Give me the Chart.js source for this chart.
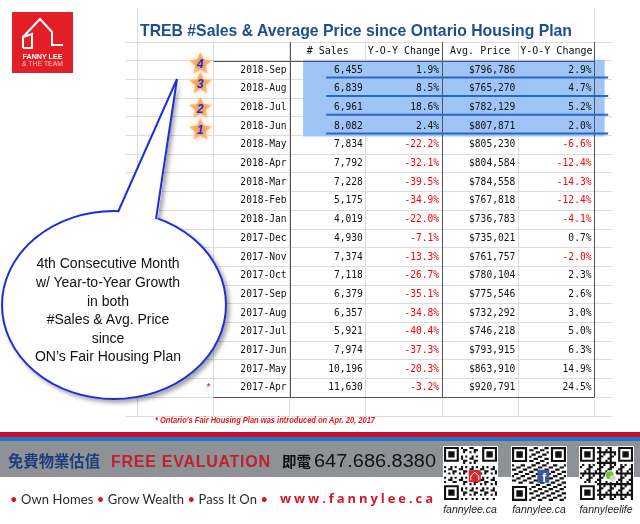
<!DOCTYPE html>
<html>
<head>
<meta charset="utf-8">
<script src="https://cdn.jsdelivr.net/npm/chart.js@4.4.1/dist/chart.umd.min.js"></script>
<style>
  html, body { margin: 0; padding: 0; background: #fff; }
  #wrap { position: relative; width: 640px; height: 524px; overflow: hidden; }
  #sheet, #deco { position: absolute; left: 0; top: 0; }
</style>
</head>
<body>
<div id="wrap">
  <canvas id="sheet" width="640" height="524"></canvas>
  <svg id="deco" width="640" height="524" xmlns="http://www.w3.org/2000/svg">
    <defs>
      <filter id="shadow" x="-10%" y="-10%" width="130%" height="130%">
        <feDropShadow dx="3" dy="3" stdDeviation="2" flood-color="#000" flood-opacity="0.35"/>
      </filter>
    </defs>

    <!-- logo -->
    <rect x="12" y="12" width="61" height="61" fill="#e41e26"/>
    <path d="M23 48 V37 L40 19 L52 32 V45 H63" fill="none" stroke="#fff" stroke-width="2"/>
    <path d="M23 37 L32 34 V48 H23" fill="none" stroke="#fff" stroke-width="2"/>
    <text x="42.5" y="59" text-anchor="middle" font-family="Liberation Sans, Arial" font-weight="bold" font-size="8" fill="#fff" textLength="40" lengthAdjust="spacingAndGlyphs">FANNY LEE</text>
    <text x="42.5" y="66" text-anchor="middle" font-family="Liberation Sans, Arial" font-size="6.5" fill="#f7c4c4" textLength="41" lengthAdjust="spacingAndGlyphs">&amp; THE TEAM</text>

    <!-- title -->
    <text x="140" y="36" font-family="Liberation Sans, Arial" font-weight="bold" font-size="17" fill="#1d4e8f" textLength="432" lengthAdjust="spacingAndGlyphs">TREB #Sales &amp; Average Price since Ontario Housing Plan</text>

    <!-- callout -->
    <g filter="url(#shadow)">
      <ellipse cx="114" cy="305" rx="112" ry="94" fill="#fff" stroke="#1c2fd8" stroke-width="2"/>
      <polygon points="118,214 157,222 177,79" fill="#fff"/>
    </g>
    <polyline points="118,212 177,79 156,219" fill="none" stroke="#1c2fd8" stroke-width="2"/>
    <g font-family="Liberation Sans, Arial" font-size="14" fill="#111" text-anchor="middle">
      <text x="108" y="268">4th Consecutive Month</text>
      <text x="108" y="287">w/ Year-to-Year Growth</text>
      <text x="108" y="306">in both</text>
      <text x="108" y="324">#Sales &amp; Avg. Price</text>
      <text x="108" y="343">since</text>
      <text x="108" y="361">ON’s Fair Housing Plan</text>
    </g>

    <!-- footnote -->
    <text x="155" y="423" font-family="Liberation Sans, Arial" font-weight="bold" font-style="italic" font-size="8.5" fill="#e8131b" textLength="220" lengthAdjust="spacingAndGlyphs">* Ontario's Fair Housing Plan was introduced on Apr. 20, 2017</text>

    <!-- footer -->
    <rect x="0" y="432" width="640" height="5" fill="#c8102e"/>
    <rect x="0" y="437" width="640" height="4" fill="#1b76c9"/>
    <rect x="0" y="441" width="640" height="36" fill="#8e9297"/>
    <text x="8" y="467" font-family="Noto Sans CJK TC" font-weight="bold" font-size="15.5" fill="#1d3e7c" textLength="92" lengthAdjust="spacingAndGlyphs">免費物業估值</text>
    <text x="111" y="467" font-family="Liberation Sans, Arial" font-weight="bold" font-size="16" fill="#c1202e" textLength="159" lengthAdjust="spacing">FREE EVALUATION</text>
    <text x="282" y="467" font-family="Noto Sans CJK TC" font-weight="bold" font-size="15" fill="#111" textLength="29" lengthAdjust="spacingAndGlyphs">即電</text>
    <text x="314" y="467" font-family="Liberation Sans, Arial" font-size="17.5" fill="#111" textLength="122" lengthAdjust="spacingAndGlyphs">647.686.8380</text>
    <text x="10" y="503.5" font-family="Lato, Open Sans" font-size="13" fill="#2b2b2b" textLength="258" lengthAdjust="spacing"><tspan fill="#d21a2c">•</tspan> Own Homes <tspan fill="#d21a2c">•</tspan> Grow Wealth <tspan fill="#d21a2c">•</tspan> Pass It On <tspan fill="#d21a2c">•</tspan></text>
    <text x="280" y="503" font-family="Open Sans, Liberation Sans" font-weight="bold" font-size="13" fill="#d21a2c" textLength="153" lengthAdjust="spacing">www.fannylee.ca</text>
    <g id="qrs"></g>
    <g font-family="Liberation Sans, Arial" font-style="italic" font-size="10.5" fill="#222" text-anchor="middle">
      <text x="470" y="513">fannylee.ca</text>
      <text x="539" y="513">fannylee.ca</text>
      <text x="606" y="513">fannyleelife</text>
    </g>
  </svg>
</div>

<script>
// TREB monthly figures, newest first
const months = ['2018-Sep', '2018-Aug', '2018-Jul', '2018-Jun', '2018-May', '2018-Apr', '2018-Mar', '2018-Feb', '2018-Jan',
                '2017-Dec', '2017-Nov', '2017-Oct', '2017-Sep', '2017-Aug', '2017-Jul', '2017-Jun', '2017-May', '2017-Apr'];
const sales = [6455, 6839, 6961, 8082, 7834, 7792, 7228, 5175, 4019, 4930, 7374, 7118, 6379, 6357, 5921, 7974, 10196, 11630];
const salesYoy = [1.9, 8.5, 18.6, 2.4, -22.2, -32.1, -39.5, -34.9, -22.0, -7.1, -13.3, -26.7, -35.1, -34.8, -40.4, -37.3, -20.3, -3.2];
const avgPrice = [796786, 765270, 782129, 807871, 805230, 804584, 784558, 767818, 736783, 735021, 761757, 780104, 775546, 732292, 746218, 793915, 863910, 920791];
const priceYoy = [2.9, 4.7, 5.2, 2.0, -6.6, -12.4, -14.3, -12.4, -4.1, 0.7, -2.0, 2.3, 2.6, 3.0, 5.0, 6.3, 14.9, 24.5];
const columnHeaders = ['# Sales', 'Y-O-Y Change', 'Avg. Price', 'Y-O-Y Change'];
const policyMonth = '2017-Apr';

// look
const MONO = '"DejaVu Sans Mono", monospace';
const GRID = '#dcdcdc';
const DARK = '#555';
const HILITE = '#9fc4f6';
const HILITE_FROM = 2.19, HILITE_TO = 6.12;   // in sheet columns
const UNDERLINE_FROM = 2.48, UNDERLINE_TO = 6.18;
const STAR_COL = 0.83;
const STAR_NUDGE = [-7, -6, 0, 3];            // hand placed stars, top first

// sheet rows: header, the months, one blank row under the table
const rows = [''].concat(months, ['']);

// leading run of months where both sales and price grew year over year
let streak = 0;
while (streak < months.length && salesYoy[streak] > 0 && priceYoy[streak] > 0) streak++;

const highlight = rows.map((r, i) => (i >= 1 && i <= streak) ? [HILITE_FROM, HILITE_TO] : null);

const fmtInt = v => v.toLocaleString('en-US');
const fmtPct = v => v.toFixed(1) + '%';

function drawStar(ctx, cx, cy, R, r) {
    ctx.beginPath();
    for (let k = 0; k < 10; k++) {
        const rad = k % 2 ? r : R;
        const a = -Math.PI / 2 + k * Math.PI / 5;
        ctx.lineTo(cx + rad * Math.cos(a), cy + rad * Math.sin(a));
    }
    ctx.closePath();
}

const sheetPlugin = {
    id: 'sheet',
    beforeDatasetsDraw(chart) {
        const { ctx, chartArea, scales: { x } } = chart;
        const snap = v => Math.round(v) + 0.5;
        // title row cell borders
        ctx.save();
        ctx.lineWidth = 1;
        ctx.strokeStyle = GRID;
        ctx.beginPath();
        [0, 6].forEach(c => { ctx.moveTo(snap(x.getPixelForValue(c)), 8); ctx.lineTo(snap(x.getPixelForValue(c)), chartArea.top); });
        ctx.stroke();
        ctx.restore();
    },
    afterDatasetsDraw(chart) {
        const { ctx, scales: { x, y } } = chart;
        const rowH = y.getPixelForValue(1) - y.getPixelForValue(0);
        const top = y.getPixelForValue(0) - rowH / 2;
        const bottom = y.getPixelForValue(months.length) + rowH / 2;
        const snap = v => Math.round(v) + 0.5;
        ctx.save();

        // table borders
        ctx.lineWidth = 1;
        ctx.strokeStyle = DARK;
        ctx.beginPath();
        [2, 4, 6].forEach(c => {
            const px = snap(x.getPixelForValue(c));
            ctx.moveTo(px, top); ctx.lineTo(px, bottom);
        });
        [top + rowH, bottom].forEach(py => {
            ctx.moveTo(x.getPixelForValue(1), snap(py)); ctx.lineTo(x.getPixelForValue(6), snap(py));
        });
        ctx.stroke();

        ctx.textBaseline = 'middle';

        // header
        ctx.font = '10px ' + MONO;
        ctx.fillStyle = '#111';
        ctx.textAlign = 'center';
        columnHeaders.forEach((h, c) => ctx.fillText(h, x.getPixelForValue(c + 2.5), y.getPixelForValue(0)));

        // cells
        ctx.font = '9.6px ' + MONO;
        ctx.textAlign = 'right';
        months.forEach((m, i) => {
            const py = y.getPixelForValue(i + 1);
            const cells = [
                [fmtInt(sales[i]), '#111'],
                [fmtPct(salesYoy[i]), salesYoy[i] < 0 ? '#f00' : '#111'],
                ['$' + fmtInt(avgPrice[i]), '#111'],
                [fmtPct(priceYoy[i]), priceYoy[i] < 0 ? '#f00' : '#111']
            ];
            cells.forEach(([t, col], c) => {
                ctx.fillStyle = col;
                ctx.fillText(t, x.getPixelForValue(c + 3) - 3, py);
            });
        });

        // policy marker
        const pi = months.indexOf(policyMonth);
        ctx.fillStyle = '#f00';
        ctx.font = '10px Liberation Sans, Arial';
        ctx.textAlign = 'center';
        ctx.fillText('*', x.getPixelForValue(1) - 5, y.getPixelForValue(pi + 1));

        // hand drawn underlines on the growth run
        ctx.strokeStyle = '#2a66cc';
        ctx.lineWidth = 2;
        for (let k = 0; k < streak; k++) {
            const py = y.getPixelForValue(k + 1) + rowH / 2 - 2;
            ctx.beginPath();
            ctx.moveTo(x.getPixelForValue(UNDERLINE_FROM), py);
            ctx.lineTo(x.getPixelForValue(UNDERLINE_TO), py);
            ctx.stroke();
        }

        // numbered stars
        for (let k = 0; k < streak; k++) {
            const cx = x.getPixelForValue(STAR_COL);
            const cy = y.getPixelForValue(k + 1) + (STAR_NUDGE[k] || 0);
            ctx.save();
            ctx.shadowColor = '#fbd2a4';
            ctx.shadowBlur = 5;
            const g = ctx.createRadialGradient(cx, cy, 1, cx, cy, 12);
            g.addColorStop(0, '#f39a4e');
            g.addColorStop(1, '#fbc48a');
            ctx.fillStyle = g;
            drawStar(ctx, cx, cy + 1, 12, 5.6);
            ctx.fill();
            ctx.restore();
            ctx.fillStyle = '#1a2ee0';
            ctx.font = 'italic bold 12px Liberation Sans, Arial';
            ctx.textAlign = 'center';
            ctx.fillText(String(streak - k), cx, cy + 2);
        }
        ctx.restore();
    }
};

new Chart(document.getElementById('sheet'), {
    type: 'bar',
    data: {
        labels: rows,
        datasets: [{
            data: highlight,
            backgroundColor: HILITE,
            borderWidth: 0,
            inflateAmount: 1,
            categoryPercentage: 1,
            barPercentage: 1
        }]
    },
    options: {
        indexAxis: 'y',
        responsive: false,
        animation: false,
        layout: { padding: { left: 125, right: 28, top: 42, bottom: 108 } },
        plugins: { legend: { display: false }, tooltip: { enabled: false } },
        scales: {
            x: {
                type: 'linear',
                min: -0.16,
                max: 6.23,
                afterBuildTicks: scale => { scale.ticks = [0, 1, 2, 3, 4, 5, 6].map(v => ({ value: v })); },
                ticks: { display: false },
                grid: { color: GRID, drawTicks: false },
                border: { display: false }
            },
            y: {
                type: 'category',
                // month labels sit just inside the first dark border of the table
                position: { x: 1.96 },
                offset: true,
                grid: { offset: true, color: GRID, tickLength: 5, tickColor: 'rgba(0,0,0,0)' },
                border: { display: false },
                ticks: { autoSkip: false, color: '#111', padding: 0, font: { family: MONO, size: 9.6 } }
            }
        }
    },
    plugins: [sheetPlugin]
});

// QR code look-alikes for the footer
(function () {
    const g = document.getElementById('qrs');
    const n = 25;
    function finder(i, j) {
        const spots = [[0, 0], [0, n - 7], [n - 7, 0]];
        for (const [a0, b0] of spots) {
            const a = i - a0, b = j - b0;
            if (a >= -1 && a <= 7 && b >= -1 && b <= 7) {
                if (a < 0 || a > 6 || b < 0 || b > 6) return 0;
                if (a === 0 || a === 6 || b === 0 || b === 6) return 1;
                return (a >= 2 && a <= 4 && b >= 2 && b <= 4) ? 1 : 0;
            }
        }
        return -1;
    }
    function qr(x0, y0, size, seed, icon) {
        const m = size / n;
        let d = '';
        for (let i = 0; i < n; i++) {
            for (let j = 0; j < n; j++) {
                let f = finder(i, j);
                if (f < 0) f = ((i * 7 + j * 11 + i * j * seed + seed) % 5) < 2 ? 1 : 0;
                if (f) d += `M${(x0 + j * m).toFixed(2)} ${(y0 + i * m).toFixed(2)}h${m.toFixed(2)}v${m.toFixed(2)}h-${m.toFixed(2)}z`;
            }
        }
        let s = `<rect x="${x0 - 1}" y="${y0 - 1}" width="${size + 2}" height="${size + 2}" fill="#fff"/>`;
        s += `<path d="${d}" fill="#111"/>`;
        const cx = x0 + size * 0.58, cy = y0 + size * 0.55;
        if (icon === 'home') {
            s += `<rect x="${cx - 6}" y="${cy - 6}" width="12" height="12" fill="#d9262c"/>`;
            s += `<path d="M${cx - 4} ${cy + 4} V${cy} L${cx} ${cy - 4} L${cx + 4} ${cy} V${cy + 4}" fill="none" stroke="#fff" stroke-width="1"/>`;
        } else if (icon === 'fb') {
            s += `<rect x="${cx - 6}" y="${cy - 7}" width="12" height="13" fill="#3b5998"/>`;
            s += `<text x="${cx + 1}" y="${cy + 5}" text-anchor="middle" font-family="Liberation Sans" font-weight="bold" font-size="12" fill="#fff">f</text>`;
        } else {
            s += `<circle cx="${cx}" cy="${cy}" r="6" fill="#fff"/>`;
            s += `<circle cx="${cx - 1}" cy="${cy - 1}" r="4" fill="#7cbf2e"/>`;
            s += `<circle cx="${cx + 2}" cy="${cy + 2}" r="3" fill="#d8d8d8"/>`;
        }
        return s;
    }
    g.innerHTML = qr(444, 447, 53, 3, 'home') + qr(512, 447, 54, 5, 'fb') + qr(580, 447, 53, 2, 'chat');
})();
</script>
</body>
</html>
